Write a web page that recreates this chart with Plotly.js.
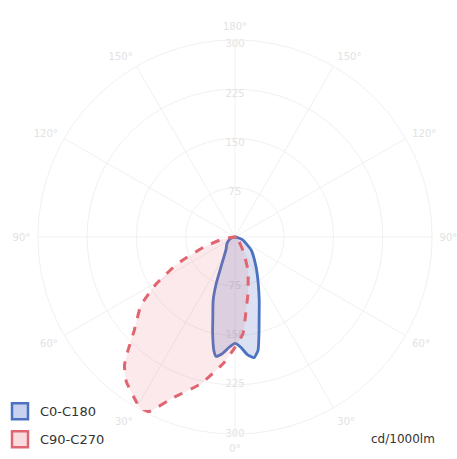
<!DOCTYPE html>
<html>
<head>
<meta charset="utf-8">
<script src="https://cdn.plot.ly/plotly-3.0.1.min.js"></script>
<style>html,body{margin:0;padding:0;background:#fff;}#chart{width:457px;height:459px;}</style>
</head>
<body>
<div id="chart"></div>
<script>
// C0-C180 plane (negative angles = C180 side)
const c0Theta = [-90, -70, -50, -35, -25, -22, -19, -15.4, -13, -10.5, -9, -6, -3, 0, 3, 6, 9, 11.5, 14, 16.7, 21, 26.6, 35, 51, 70, 90];
const c0R     = [0, 8, 16, 24, 51, 76, 102, 127, 151, 176, 184, 178, 168, 162, 168, 180, 186, 176, 151, 128, 103, 79, 56, 32, 12, 0];
// C90-C270 plane
const c90Theta = [90, 40, 30, 21.5, 13, 8.6, 4.8, 0, -5, -13, -21, -26, -28, -31, -37, -40.7, -43, -47, -54, -59, -63, -66, -72, -80, -90];
const c90R     = [0, 10, 25, 54, 88, 113, 147, 168, 192, 229, 262, 295, 300, 292, 275, 258, 240, 210, 177, 141, 110, 88, 50, 20, 0];
// axes
const radialTicks = [75, 150, 225, 300];
const angleTicks = [0, 30, 60, 90, 120, 150, 180, 210, 240, 270, 300, 330];
const angleLabels = ["0°", "30°", "60°", "90°", "120°", "150°", "180°", "150°", "120°", "90°", "60°", "30°"];
const seriesNames = ["C0-C180", "C90-C270"];
const unitLabel = "cd/1000lm";

const labelColor = "#e2e2e2";
const gridColor = "#f1f1f1";
const blueLine = "#4a72c0", blueFill = "rgba(90,120,200,0.22)";
const redLine = "#e06570", redFill = "rgba(230,110,120,0.15)";

const traces = [
  {
    type: "scatterpolar", mode: "text", showlegend: false, hoverinfo: "skip",
    theta: radialTicks.map(() => 180), r: radialTicks,
    text: radialTicks.map(String), textposition: "bottom center",
    textfont: {color: labelColor, size: 10, family: "DejaVu Sans"}
  },
  {
    type: "scatterpolar", mode: "text", showlegend: false, hoverinfo: "skip",
    theta: radialTicks.map(() => 0), r: radialTicks,
    text: radialTicks.map(String), textposition: "middle center",
    textfont: {color: labelColor, size: 10, family: "DejaVu Sans"}
  },
  {
    type: "scatterpolar", mode: "lines", name: seriesNames[0], showlegend: false,
    theta: c0Theta, r: c0R, fill: "toself", fillcolor: blueFill,
    line: {color: blueLine, width: 2.8, shape: "spline", smoothing: 0.5}
  },
  {
    type: "scatterpolar", mode: "lines", name: seriesNames[1], showlegend: false,
    theta: c90Theta, r: c90R, fill: "toself", fillcolor: redFill,
    line: {color: redLine, width: 3, dash: "dash", shape: "spline", smoothing: 0.4}
  },
  // legend-only entries (square swatches)
  {
    type: "scatterpolar", mode: "markers", name: seriesNames[0], legendgroup: "a",
    r: [null], theta: [null],
    marker: {symbol: "square", size: 17, color: "rgba(200,210,240,1)", line: {color: blueLine, width: 2.5}}
  },
  {
    type: "scatterpolar", mode: "markers", name: seriesNames[1], legendgroup: "b",
    r: [null], theta: [null],
    marker: {symbol: "square", size: 17, color: "rgba(250,220,224,1)", line: {color: redLine, width: 2.5}}
  }
];

const cx = 234, cy = 237, rad = 198, W = 457, H = 459;
const layout = {
  width: W, height: H,
  margin: {l: 0, r: 0, t: 0, b: 0},
  paper_bgcolor: "#fff",
  font: {family: "DejaVu Sans", size: 12, color: "#333"},
  polar: {
    domain: {x: [(cx - rad) / W, (cx + rad) / W], y: [(H - cy - rad) / H, (H - cy + rad) / H]},
    bgcolor: "rgba(0,0,0,0)",
    radialaxis: {range: [0, 300], tickvals: radialTicks, showticklabels: false, ticks: "",
      gridcolor: gridColor, gridwidth: 1, showline: false},
    angularaxis: {rotation: -90, direction: "counterclockwise", tickmode: "array",
      tickvals: angleTicks, ticktext: angleLabels, ticks: "outside", ticklen: 5,
      tickcolor: "rgba(0,0,0,0)",
      tickfont: {color: labelColor, size: 10},
      gridcolor: gridColor, linecolor: gridColor, linewidth: 1}
  },
  showlegend: true,
  legend: {x: -0.005, y: 0.01, xanchor: "left", yanchor: "bottom", bgcolor: "rgba(0,0,0,0)",
    font: {size: 13, color: "#333"}, traceorder: "grouped", tracegroupgap: 8, itemwidth: 30},
  annotations: [{text: unitLabel, xref: "paper", yref: "paper", x: 0.955, y: 0.025,
    xanchor: "right", yanchor: "bottom", showarrow: false, font: {size: 12, color: "#333"}}]
};

Plotly.newPlot("chart", traces, layout, {displayModeBar: false, staticPlot: true});
</script>
</body>
</html>
